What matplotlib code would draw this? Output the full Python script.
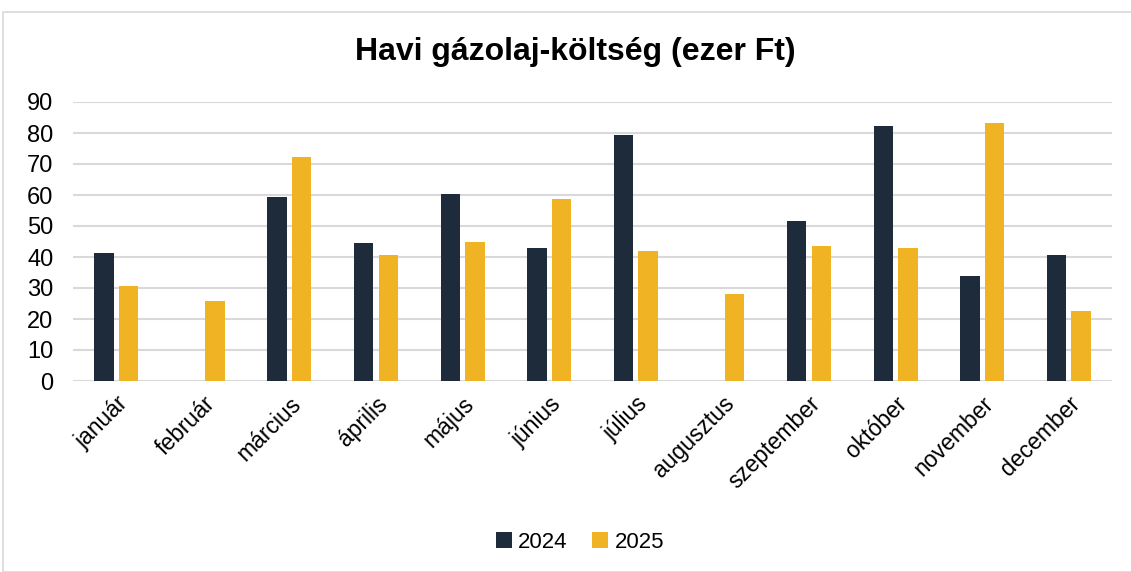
import matplotlib

matplotlib.use("Agg")
import matplotlib.pyplot as plt
import numpy as np
from matplotlib.patches import Rectangle

plt.rcParams["font.family"] = ["Liberation Sans", "DejaVu Sans"]

# adatok (ezer Ft)
honapok = ["január", "február", "március", "április", "május", "június",
           "július", "augusztus", "szeptember", "október", "november", "december"]
ev_2024 = [41.3, 0, 59.3, 44.5, 60.3, 42.9, 79.4, 0, 51.6, 82.3, 34.0, 40.6]
ev_2025 = [30.5, 25.8, 72.2, 40.6, 44.7, 58.7, 42.0, 28.0, 43.5, 42.8, 83.2, 22.5]
y_ticks = list(range(0, 100, 10))

sotet = "#1e2b3a"
sarga = "#f0b323"

W, H = 1131, 572
fig = plt.figure(figsize=(W / 100, H / 100), dpi=100)

# keret a diagram korul
fig.patches.append(Rectangle((3 / W, 0), (W - 3) / W + 0.01, (H - 12) / H,
                             transform=fig.transFigure, fill=False,
                             edgecolor="#d9d9d9", linewidth=1.2))

ax = fig.add_axes([73 / W, (H - 381) / H, (1112 - 73) / W, (381 - 102) / H])

x = np.arange(len(honapok))
w = 0.225
off = 0.142
ax.bar(x - off, ev_2024, width=w, color=sotet, label="2024", zorder=3)
ax.bar(x + off, ev_2025, width=w, color=sarga, label="2025", zorder=3)

ax.set_xlim(-0.5, len(honapok) - 0.5)
ax.set_ylim(0, 90)
ax.set_yticks(y_ticks)
ax.yaxis.grid(True, color="#d9d9d9", linewidth=1.5, zorder=0)
ax.set_axisbelow(True)
for s in ax.spines.values():
    s.set_visible(False)
ax.tick_params(axis="both", length=0, colors="black")
ax.tick_params(axis="y", labelsize=17, pad=14)
ax.tick_params(axis="x", labelsize=16.5, pad=8)
ax.set_xticks(x)
ax.set_xticklabels(honapok, rotation=45, ha="right", rotation_mode="anchor")

fig.text(575 / W, (H - 52) / H, "Havi gázolaj-költség (ezer Ft)", ha="center",
         va="center", fontsize=23, fontweight="bold")

fig.legend(loc="center", bbox_to_anchor=(580 / W, (H - 542) / H), ncol=2,
           frameon=False, fontsize=16, handlelength=0.7, handleheight=0.7,
           handletextpad=0.3, columnspacing=1.1)

fig.savefig("out.png", dpi=100)
